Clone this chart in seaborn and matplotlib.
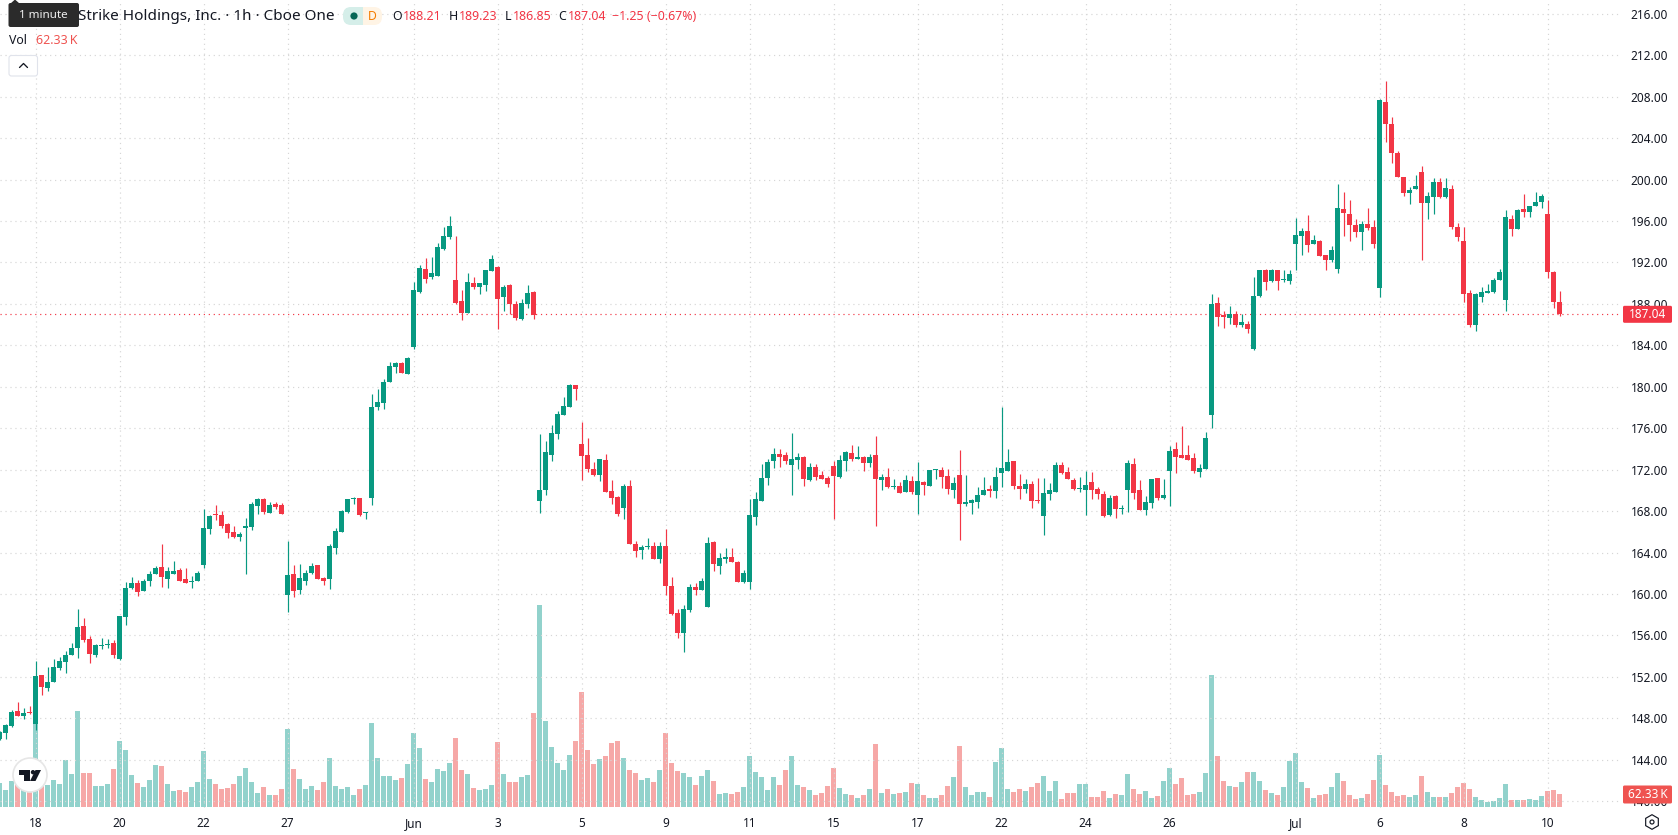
import matplotlib
matplotlib.use("Agg")
import matplotlib.pyplot as plt
from matplotlib.patches import Rectangle, Circle, FancyBboxPatch, Polygon, RegularPolygon
import numpy as np
import pandas as pd
import seaborn as sns

# Hourly OHLC session data, oldest bar first
open_ = [
    146.00,146.59,147.26,148.71,148.22,148.61,147.46,152.17,150.92,151.49,
    152.84,153.42,154.09,154.76,156.88,155.63,154.09,154.96,155.05,155.24,
    153.71,157.74,160.53,161.01,160.24,161.21,161.88,162.65,161.40,161.97,
    162.36,161.40,161.11,161.21,162.84,166.30,167.68,167.65,166.78,166.01,
    165.53,166.40,166.49,168.51,169.19,167.84,168.71,168.61,159.94,161.96,
    160.42,161.29,162.06,162.83,161.58,161.48,164.47,166.01,167.94,169.13,
    169.29,167.77,169.29,178.06,178.45,180.48,181.92,182.31,181.25,183.85,
    189.16,191.38,190.60,190.70,193.31,194.46,190.32,188.29,187.13,190.03,
    189.64,189.83,191.18,191.57,188.68,189.83,188.00,186.55,188.00,189.16,
    168.99,170.06,173.43,175.45,177.29,178.06,180.18,174.49,173.43,172.08,
    171.50,172.95,169.95,169.38,168.32,170.44,164.84,164.26,164.55,164.65,
    163.40,164.65,160.79,158.19,156.26,158.48,160.69,160.41,158.77,165.04,
    162.72,163.40,163.59,163.11,161.18,161.18,167.45,168.99,171.21,172.85,
    173.52,173.43,172.46,172.95,173.24,171.02,172.28,171.50,171.22,172.37,
    171.31,172.86,173.63,173.05,173.24,172.66,173.43,171.02,171.31,170.35,
    170.44,169.86,170.93,169.58,170.83,170.44,171.92,171.99,171.41,170.06,
    171.50,168.71,168.80,168.90,169.58,170.15,169.96,171.70,171.89,172.86,
    170.44,170.15,170.64,169.09,167.55,169.67,169.86,172.47,171.79,171.02,
    170.15,170.06,170.83,170.15,169.67,167.65,169.48,168.16,170.06,172.57,
    170.06,168.13,168.80,171.22,169.29,171.89,174.01,173.43,173.43,173.14,
    171.79,172.08,177.29,188.10,186.94,186.65,187.04,185.97,186.07,183.66,
    188.77,191.28,190.22,191.28,190.32,190.22,193.77,194.54,195.02,193.77,
    194.06,192.71,192.23,191.36,197.15,196.67,195.61,194.93,195.70,195.41,
    189.53,207.47,205.35,202.55,200.24,198.69,199.08,200.72,197.73,198.31,
    199.76,198.31,199.08,195.41,194.06,189.05,185.96,188.66,189.05,189.14,
    190.30,188.37,196.19,195.22,197.15,196.86,197.44,197.83,196.67,191.07,
    188.21,
]
high = [
    146.80,147.40,148.80,149.57,148.99,149.19,153.51,152.17,152.94,153.71,
    153.90,154.47,155.24,158.51,157.65,155.92,155.15,155.72,155.63,155.53,
    157.84,161.11,161.59,161.30,161.40,162.17,162.74,164.86,162.65,163.22,
    162.55,162.55,161.69,162.17,168.22,167.65,168.61,168.03,166.88,166.59,
    166.01,167.36,168.90,169.28,169.28,168.90,168.90,168.80,165.14,162.83,
    162.93,162.35,163.02,162.83,161.67,164.86,166.40,168.14,169.20,169.38,
    169.29,167.94,179.32,179.80,180.77,182.41,182.41,182.41,182.89,190.12,
    191.76,192.44,192.53,193.88,195.43,196.49,194.56,189.35,190.99,190.60,
    190.03,191.28,192.73,191.67,189.83,189.93,188.29,188.48,189.83,189.25,
    175.45,174.78,176.32,177.67,179.02,180.28,180.18,176.61,175.07,172.75,
    173.04,173.52,171.02,169.47,170.63,171.02,165.13,164.75,165.42,165.04,
    165.04,166.29,161.66,158.57,158.96,160.98,161.08,161.56,165.52,165.13,
    163.97,164.46,164.46,163.20,162.33,169.18,169.86,172.56,173.04,174.10,
    174.01,173.72,175.55,173.62,173.34,172.66,172.57,171.89,171.41,172.86,
    173.43,173.82,174.40,174.30,173.34,173.53,175.27,171.60,172.18,171.12,
    170.83,171.50,171.41,172.76,170.93,171.99,172.08,172.28,172.08,171.31,
    173.92,171.50,169.19,170.35,171.31,170.54,172.28,178.06,174.01,172.86,
    171.60,171.12,170.93,171.22,171.22,170.73,172.76,172.76,172.28,171.22,
    171.31,171.89,171.79,170.35,169.96,169.58,169.58,168.61,172.95,173.14,
    171.02,169.48,171.12,171.22,171.12,174.30,174.69,176.23,174.40,173.63,
    172.57,175.65,188.96,188.68,187.32,187.81,187.32,187.04,186.36,190.60,
    191.28,191.38,191.38,191.28,191.28,191.28,196.28,195.31,196.57,194.64,
    194.15,192.71,193.58,199.56,198.79,198.02,196.19,195.99,197.25,196.09,
    207.76,209.50,206.03,202.75,200.24,199.27,200.43,201.30,198.79,200.14,
    200.14,200.14,199.47,195.80,195.41,189.34,189.05,189.63,189.92,190.50,
    191.36,197.05,196.57,197.15,198.60,197.44,198.79,198.60,198.02,191.17,
    189.23,
]
low = [
    145.90,146.01,147.17,148.22,147.94,148.42,146.88,150.24,150.63,151.49,
    152.65,152.36,154.09,153.80,155.34,153.32,153.90,154.67,154.76,153.80,
    153.61,156.97,160.44,159.76,160.24,160.72,161.88,160.63,160.53,161.97,
    161.21,161.01,160.53,161.21,162.55,165.82,167.17,166.40,165.44,165.44,
    165.15,161.97,166.21,167.74,167.74,167.84,168.22,167.74,158.30,159.74,
    160.03,160.90,161.96,161.48,160.90,160.51,163.89,166.01,167.85,168.71,
    167.55,167.26,168.61,177.77,177.87,180.48,181.34,181.34,181.25,183.66,
    189.06,190.03,190.41,190.70,193.21,194.27,188.00,186.46,187.13,189.45,
    188.96,189.25,191.18,185.59,187.32,187.04,186.46,186.46,187.61,186.55,
    167.83,169.58,172.86,174.97,177.29,178.06,178.74,171.02,171.79,171.40,
    170.92,169.86,168.70,167.54,167.25,164.84,163.59,163.40,164.36,163.40,
    163.01,159.92,157.99,155.77,154.42,158.28,159.92,160.41,158.77,162.24,
    161.95,163.01,163.11,161.18,161.08,160.50,166.68,168.99,170.53,172.17,
    172.27,172.56,169.57,172.08,170.44,170.93,171.02,171.12,170.35,167.26,
    171.22,171.89,172.86,173.05,171.89,172.28,166.59,170.06,170.25,170.15,
    169.77,169.86,169.67,167.74,169.58,170.44,171.12,170.25,169.67,169.29,
    165.23,168.51,167.74,168.32,169.58,169.38,169.29,170.35,171.89,170.15,
    169.19,169.77,168.32,168.80,165.72,169.09,169.86,171.60,171.12,170.06,
    169.86,167.65,169.19,169.19,167.45,167.55,167.36,167.74,167.94,169.19,
    168.13,167.65,168.32,169.09,169.19,168.51,171.70,173.14,172.95,171.70,
    171.31,172.08,176.04,185.88,185.68,186.07,185.78,185.78,185.20,183.56,
    188.68,189.35,190.12,189.35,190.12,189.93,191.26,192.71,193.00,193.77,
    192.61,191.26,192.03,190.97,194.55,194.06,194.45,193.20,195.13,193.39,
    188.66,203.61,201.59,200.24,198.41,197.63,199.08,192.23,196.19,196.67,
    198.21,198.21,195.22,194.06,188.18,185.77,185.38,188.18,189.05,189.05,
    190.30,187.31,194.55,195.22,196.38,196.38,197.44,197.25,190.50,187.60,
    186.85,
]
close = [
    146.69,147.36,148.61,148.22,148.51,148.48,152.07,151.01,151.49,152.94,
    153.51,154.09,154.76,156.78,155.53,154.19,155.05,155.05,155.15,154.09,
    157.84,160.53,161.01,160.15,161.21,161.88,162.55,161.59,162.17,162.26,
    161.21,161.01,161.21,162.07,166.40,167.55,167.58,166.59,165.92,165.53,
    165.82,166.59,168.71,169.19,167.94,168.61,168.42,167.74,161.86,160.32,
    161.58,162.06,162.73,161.48,161.29,164.66,166.11,168.04,169.20,169.22,
    167.65,167.87,178.06,178.55,180.48,182.02,182.31,181.34,182.79,189.35,
    191.47,190.41,190.99,193.50,194.56,195.52,188.10,187.13,190.12,189.64,
    190.03,191.28,192.34,188.48,189.64,188.00,186.65,188.10,189.06,186.94,
    170.05,173.72,175.55,177.38,178.15,180.18,179.80,173.33,172.08,171.50,
    173.04,169.86,169.28,167.74,170.44,164.84,164.17,164.55,164.65,163.40,
    164.65,160.79,158.09,156.26,158.57,160.69,160.41,161.27,164.94,162.91,
    163.49,163.59,163.11,161.18,162.05,167.64,169.18,171.21,172.75,173.52,
    173.23,172.85,173.04,173.23,171.12,172.28,171.31,171.12,170.64,171.41,
    172.95,173.72,173.05,173.24,172.66,173.24,171.12,171.31,170.35,170.44,
    169.77,171.02,169.86,170.93,170.54,171.99,172.02,171.31,170.15,170.73,
    168.71,168.90,169.09,169.58,170.06,169.96,171.31,172.18,172.76,170.44,
    170.15,170.64,169.00,169.00,169.77,170.06,172.47,171.70,171.12,170.15,
    170.25,170.54,170.06,169.67,167.55,169.29,168.23,168.32,172.66,169.77,
    168.13,168.90,171.12,169.29,169.58,173.82,173.24,173.14,172.95,171.89,
    172.18,175.07,188.00,186.75,186.75,187.04,185.97,186.26,185.59,188.77,
    191.28,190.12,191.28,190.22,190.41,190.89,194.64,195.02,193.67,194.15,
    192.61,192.23,193.19,197.24,196.77,195.61,194.93,195.70,195.32,193.77,
    207.67,205.35,202.55,200.24,198.69,198.98,199.37,197.73,198.41,199.76,
    198.31,199.18,195.41,194.45,188.95,185.96,188.95,189.14,189.24,190.30,
    191.07,196.38,195.22,197.05,196.86,197.44,197.83,198.41,191.07,188.18,
    187.04,
]
# Traded volume per bar, in thousands of shares
volume = [
    118,82,126,123,82,74,410,123,107,131,
    112,230,161,471,166,166,102,102,112,185,
    323,279,156,116,97,131,205,200,112,77,
    82,72,97,121,274,136,112,87,92,112,
    151,190,121,67,97,57,57,87,382,185,
    136,87,102,82,121,239,102,87,97,57,
    87,107,412,239,151,151,131,141,210,362,
    289,136,121,185,175,215,338,180,161,92,
    82,87,107,318,161,121,121,146,156,461,
    992,421,294,215,180,254,323,564,279,210,
    235,249,313,323,239,180,166,131,141,121,
    180,362,215,175,166,146,107,151,180,126,
    62,67,62,72,97,249,171,146,82,146,
    107,180,249,107,97,82,57,67,102,190,
    92,62,57,43,57,87,308,67,87,62,
    67,72,116,112,57,43,43,57,102,146,
    298,97,57,72,72,48,220,289,87,72,
    87,77,97,116,151,77,126,38,67,67,
    112,112,48,48,77,43,62,57,161,87,
    62,77,43,52,126,190,112,141,57,62,
    72,166,648,249,126,102,97,121,171,171,
    126,82,67,57,97,225,264,121,92,43,
    57,62,97,166,126,57,38,43,62,131,
    254,107,72,52,57,48,57,151,72,48,
    48,48,67,97,116,87,48,33,23,28,
    43,112,33,33,33,38,33,52,77,82,
    62.33,
]
# Axis ticks: bar number of each time label, plus the labels themselves
time_tick_bars = [6,20,34,48,69,83,97,111,125,139,153,167,181,195,216,230,244,258]
time_tick_labels = ["18","20","22","27","Jun","3","5","9","11","15","17","22","24","26","Jul","6","8","10"]
price_ticks = list(range(140, 220, 4))
last_price = close[-1]
last_volume = volume[-1]

UP = "#089981"
DOWN = "#F23645"
VOL_UP = "#26A69A"
VOL_DOWN = "#EF5350"
INK = "#131722"
GRID = "#D6D6D6"
W, H = 1678, 835
PLOT_RIGHT, PLOT_BOTTOM = 1621, 808
BAR_WIDTH = 0.9

sns.set_theme(style="white")
plt.rcParams["font.family"] = ["Noto Sans", "DejaVu Sans"]

df = pd.DataFrame({"bar": np.arange(len(close)), "open": open_, "high": high,
                   "low": low, "close": close, "volume": volume})
df["side"] = np.where(df["close"] >= df["open"], "up", "down")

fig = plt.figure(figsize=(W / 100, H / 100), dpi=100, facecolor="white")
rect = [0, 1 - PLOT_BOTTOM / H, PLOT_RIGHT / W, PLOT_BOTTOM / H]
xlim = (0.0833, PLOT_RIGHT / 6 + 0.0833)
ylim = (139.34, 217.33)

# Volume pane shares the plot area and sits underneath the candles
ax_vol = fig.add_axes(rect, zorder=1)
sns.barplot(data=df, x="bar", y="volume", hue="side", hue_order=["up", "down"],
            palette={"up": VOL_UP, "down": VOL_DOWN}, native_scale=True, dodge=False,
            width=BAR_WIDTH, gap=0, saturation=1, alpha=0.5, errorbar=None, legend=False,
            linewidth=0, ax=ax_vol)
ax_vol.set_xlim(*xlim)
ax_vol.set_ylim(-6.4, 3970)
ax_vol.axis("off")

# Candles
ax = fig.add_axes(rect, zorder=2)
ax.patch.set_alpha(0)
colors = df["side"].map({"up": UP, "down": DOWN})
body_low = df[["open", "close"]].min(axis=1)
body_height = (df["close"] - df["open"]).abs()
ax.vlines(df["bar"], df["low"], df["high"], colors=colors, linewidth=0.85, zorder=3)
ax.bar(df["bar"], body_height, bottom=body_low, width=BAR_WIDTH, color=colors, linewidth=0, zorder=4)
ax.set_xlim(*xlim)
ax.set_ylim(*ylim)

dots = (0, (1, 3.2))
ax.set_axisbelow(True)
ax.set_xticks(time_tick_bars, time_tick_labels)
ax.set_yticks(price_ticks, [f"{p:.2f}" for p in price_ticks])
ax.yaxis.tick_right()
ax.grid(True, color=GRID, linewidth=0.85, linestyle=dots)
for side in ax.spines.values():
    side.set_visible(False)
ax.tick_params(axis="x", length=0, pad=6.5, labelsize=8.5, labelcolor=INK)
ax.tick_params(axis="y", length=0, pad=7, labelsize=8.5, labelcolor=INK)
for lab in ax.get_xticklabels():
    if lab.get_text() in ("Jun", "Jul"):
        lab.set_fontweight("bold")
for lab in ax.get_yticklabels():
    if lab.get_text() in ("200.00", "180.00", "160.00"):
        lab.set_fontweight("bold")
ax.axhline(last_price, color=DOWN, linewidth=0.85, linestyle=dots, zorder=2)

# Interface furniture, laid out in figure pixels
ui = fig.add_axes([0, 0, 1, 1], zorder=5)
ui.set_xlim(0, W)
ui.set_ylim(H, 0)
ui.axis("off")


def price_y(value):
    return (ylim[1] - value) / (ylim[1] - ylim[0]) * PLOT_BOTTOM


# Last price and last volume tags on the scale
py = price_y(last_price)
ui.add_patch(FancyBboxPatch((1623, py - 8), 49, 17, boxstyle="round,pad=0,rounding_size=1.5",
                            fc=DOWN, ec="none"))
ui.text(1647.5, py + 0.5, f"{last_price:.2f}", color="white", fontsize=8.5, ha="center", va="center")
ui.add_patch(FancyBboxPatch((1623, 785.5), 49, 18, boxstyle="round,pad=0,rounding_size=1.5",
                            fc=VOL_DOWN, ec="none"))
ui.text(1647.5, 794.5, f"{last_volume:.2f}\u2009K", color="white", fontsize=8.5, ha="center", va="center")

# Legend header
ui.text(78, 16, "Strike Holdings, Inc. · 1h · Cboe One", color=INK, fontsize=11, va="center")
ui.add_patch(FancyBboxPatch((343, 7), 20, 18, boxstyle="round,pad=0,rounding_size=8", fc="#D5EEE9", ec="none"))
ui.add_patch(FancyBboxPatch((362, 7), 20, 18, boxstyle="round,pad=0,rounding_size=8", fc="#FFF4E5", ec="none"))
ui.add_patch(Rectangle((355, 7), 8, 18, fc="#D5EEE9", ec="none"))
ui.add_patch(Rectangle((363, 7), 8, 18, fc="#FFF4E5", ec="none"))
ui.add_patch(Circle((354, 16), 3.6, fc="#056656", ec="none"))
ui.text(372, 16, "D", color="#F57C00", fontsize=8.8, ha="center", va="center", fontweight="medium")
header = [(392, "O", INK), (403, "188.21", DOWN), (449, "H", INK), (459, "189.23", DOWN),
          (505, "L", INK), (512.5, "186.85", DOWN), (558, "C", INK), (568, "187.04", DOWN),
          (612, "\u22121.25 (\u22120.67%)", DOWN)]
for x, s, c in header:
    ui.text(x, 16.5, s, color=c, fontsize=8.9, va="center")
ui.text(9, 41, "Vol", color=INK, fontsize=8.9, va="center")
ui.text(36, 41, "62.33\u2009K", color=VOL_DOWN, fontsize=8.9, va="center")

# Collapse button
ui.add_patch(FancyBboxPatch((9, 55.5), 28.5, 20.5, boxstyle="round,pad=0,rounding_size=2.5",
                            fc="white", ec="#E0E3EB", lw=0.8))
ui.plot([19.5, 23.5, 27.5], [67.5, 63.5, 67.5], color=INK, lw=0.95, solid_capstyle="round")

# Hover tooltip
ui.add_patch(FancyBboxPatch((8.5, 3), 70.5, 24, boxstyle="round,pad=0,rounding_size=2",
                            fc="#2B2B2B", ec="none"))
ui.add_patch(Polygon([(10.5, 3.5), (15, -0.5), (19.5, 3.5)], fc="#2B2B2B", ec="none"))
ui.text(43.5, 16, "1 minute", color="white", fontsize=8.4, ha="center", va="center", alpha=0.92)

# Watermark badge
ui.add_patch(Circle((30, 775), 17, fc="white", ec="#E6E6E6", lw=1.2))
ui.add_patch(Polygon([(18.6, 770), (29.5, 770), (29.5, 781), (24, 781), (24, 775), (18.6, 775)],
                     fc="#131722", ec="none"))
ui.add_patch(Circle((33, 772.2), 2.2, fc="#131722", ec="none"))
ui.add_patch(Polygon([(41, 770), (35.5, 781), (30, 781), (35.5, 770)], fc="#131722", ec="none"))

# Scale settings glyph
ui.add_patch(RegularPolygon((1652, 822), 6, radius=7.3, fc="none", ec=INK, lw=0.85))
ui.add_patch(Circle((1652, 822), 2, fc="none", ec=INK, lw=0.85))

fig.savefig("out.png", dpi=100, facecolor="white")
